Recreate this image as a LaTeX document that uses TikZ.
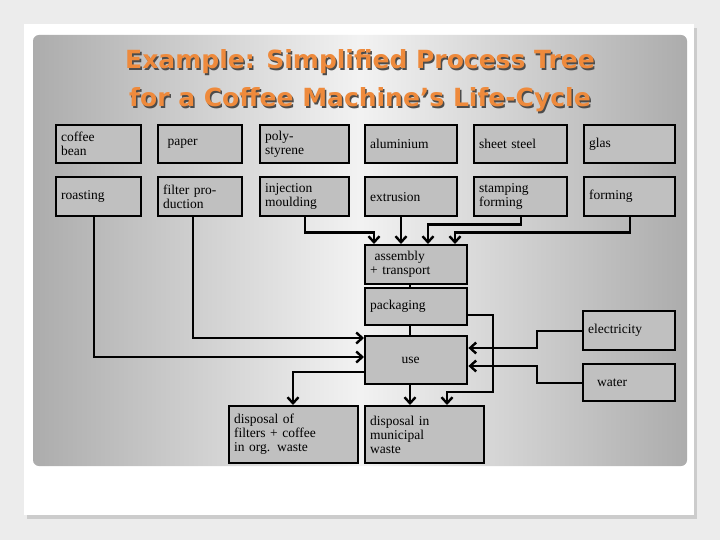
\documentclass[tikz,border=0pt]{standalone}
\usepackage{fontspec}
\setmainfont{Liberation Serif}
\newfontfamily\titlefont{DejaVu Sans}
\usetikzlibrary{arrows.meta}
\definecolor{boxgray}{HTML}{C0C0C0}
\definecolor{ttl}{HTML}{EE8A3C}
\begin{document}
\begin{tikzpicture}[x=1pt,y=-1pt,
  box/.style={draw, fill=boxgray, line width=2.4pt, anchor=north west, align=left,
    inner sep=5pt, font=\fontsize{13.5}{14}\selectfont},
  wire/.style={line width=2.4pt, -{Straight Barb[length=6pt,width=11pt]}},
  plain/.style={line width=2.4pt}]
\useasboundingbox (0,0) rectangle (720,540);
\fill[gray!15] (0,0) rectangle (720,540);
\fill[gray!40] (27,28) rectangle (697,519);
\fill[white] (24,24) rectangle (694,515);
\shade[rounded corners=6pt, left color=gray!65, right color=gray!65, middle color=gray!10] (33,35) rectangle (687,466);
% title
\foreach \dx/\c in {1.5/black!70, 0/ttl}{
  \node[font=\titlefont\bfseries\fontsize{25}{38}\selectfont, text=\c, align=center] at (360+\dx,81+\dx)
    {Example: Simplified Process Tree\\for a Coffee Machine’s Life-Cycle};
}
\newcommand\bx[6]{\node[box, minimum width=#4pt, minimum height=#5pt, text width=#4pt-10pt] (#1) at (#2,#3) {#6};}
\bx{bean}{55}{124}{85}{38}{coffee\\bean}
\bx{paper}{157}{124}{84}{38}{\ paper}
\bx{poly}{259}{124}{89}{38}{poly-\\styrene}
\bx{alu}{364}{124}{92}{38}{aluminium}
\bx{steel}{473}{124}{93}{38}{sheet steel}
\bx{glas}{583}{124}{91}{38}{glas}
\bx{roast}{55}{176}{85}{39}{roasting\\[9pt]}
\bx{filter}{157}{176}{84}{39}{filter pro-\\duction}
\bx{inject}{259}{176}{89}{39}{injection\\moulding}
\bx{extr}{364}{176}{92}{39}{extrusion}
\bx{stamp}{473}{176}{93}{39}{stamping\\forming}
\bx{form}{583}{176}{91}{39}{forming}
\bx{assem}{364}{244}{102}{39}{\ assembly\\+ transport}
\bx{pack}{364}{287}{102}{37}{packaging}
\bx{use}{364}{335}{102}{48}{\qquad\ use}
\bx{dorg}{228}{405}{129}{57}{disposal of\\filters + coffee\\in org. waste}
\bx{dmun}{364}{405}{119}{57}{disposal in\\municipal\\waste}
\bx{elec}{582}{310}{92}{39}{electricity}
\bx{water}{582}{363}{92}{37}{\ \ water}
% connectors
\coordinate (r) at (94,357);
\coordinate (f) at (193,338);
\coordinate (d) at (293,372);
\draw[wire] (inject.south) -- ++(0,15) -| ([xshift=10pt]assem.north west);
\draw[wire] ([xshift=37pt]extr.south west) -- ([xshift=37pt]assem.north west);
\draw[wire] (stamp.south) -- ++(0,7) -| ([xshift=64pt]assem.north west);
\draw[wire] (form.south) -- ++(0,15) -| ([xshift=91pt]assem.north west);
\draw[plain] ([xshift=46pt]assem.south west) -- ([xshift=46pt]pack.north west);
\draw[plain] ([xshift=46pt]pack.south west) -- ([xshift=46pt]use.north west);
\draw[wire] (roast.south -| r) |- (use.west |- r);
\draw[wire] (filter.south -| f) |- (use.west |- f);
\draw[wire] ([yshift=-8pt]pack.east) -| (493,392) -| ([xshift=83pt]dmun.north west);
\draw[wire] ([xshift=46pt]use.south west) -- ([xshift=46pt]dmun.north west);
\draw[wire] (use.west |- d) -| (dorg.north -| d);
\draw[wire] (elec.west) -| (537,348) -- (use.east |- 0,348);
\draw[wire] (water.west) -| (537,366) -- (use.east |- 0,366);
\end{tikzpicture}
\end{document}
